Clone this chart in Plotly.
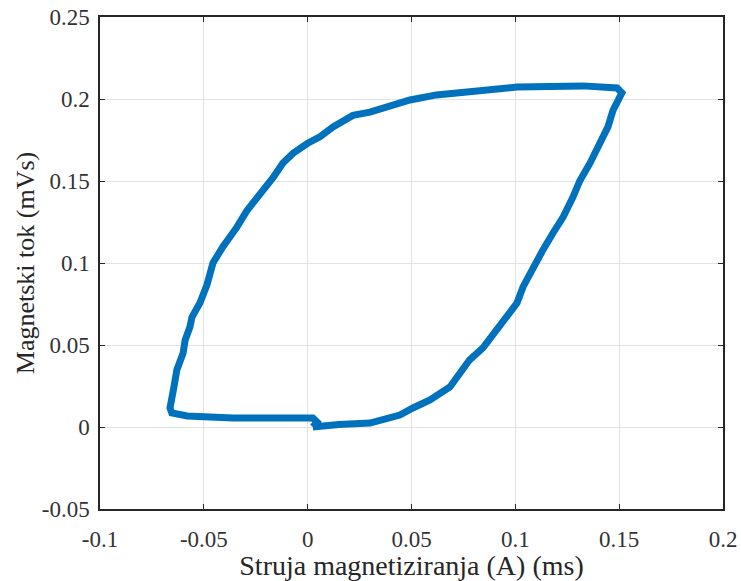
import plotly.graph_objects as go

# Hysteresis loop points, in drawing order
struja = [0.0025, 0.0074, 0.015, 0.030, 0.0444, 0.0507, 0.0589, 0.0685, 0.078, 0.0844,
          0.091, 0.0974, 0.1008, 0.1037, 0.1085, 0.1133, 0.118, 0.123, 0.1277, 0.131,
          0.136, 0.1407, 0.1446, 0.147, 0.1504, 0.1513, 0.149, 0.1325, 0.1008, 0.078,
          0.062, 0.0493, 0.030, 0.0218, 0.0122, 0.0059, 0.0, -0.007, -0.0119, -0.0167,
          -0.0215, -0.0263, -0.0292, -0.034, -0.0389, -0.0408, -0.0456, -0.0485, -0.0519,
          -0.0557, -0.0567, -0.059, -0.060, -0.063, -0.0644, -0.0654, -0.0663, -0.0654,
          -0.058, -0.036, -0.0119, 0.0025, 0.0045, 0.0025]
tok = [0.0, 0.001, 0.0015, 0.0024, 0.0073, 0.0116, 0.0165, 0.0244, 0.041, 0.0482,
       0.059, 0.0683, 0.0756, 0.0854, 0.0976, 0.108, 0.118, 0.128, 0.140, 0.150,
       0.161, 0.173, 0.183, 0.193, 0.201, 0.2037, 0.2067, 0.208, 0.2073, 0.205,
       0.2025, 0.1994, 0.192, 0.190, 0.183, 0.177, 0.173, 0.167, 0.161, 0.152,
       0.1445, 0.1366, 0.132, 0.122, 0.114, 0.110, 0.100, 0.0866, 0.0756,
       0.067, 0.061, 0.053, 0.045, 0.0348, 0.0244, 0.0165, 0.0116, 0.0085,
       0.0067, 0.0055, 0.0061, 0.0055, 0.003, 0.0]

x_ticks = [-0.1, -0.05, 0, 0.05, 0.1, 0.15, 0.2]
x_labels = ["-0.1", "-0.05", "0", "0.05", "0.1", "0.15", "0.2"]
y_ticks = [-0.05, 0, 0.05, 0.1, 0.15, 0.2, 0.25]
y_labels = ["-0.05", "0", "0.05", "0.1", "0.15", "0.2", "0.25"]

fig = go.Figure()
fig.add_trace(go.Scatter(x=struja, y=tok, mode="lines",
                         line=dict(color="#0072BD", width=7, shape="linear"),
                         showlegend=False, hoverinfo="skip"))

font_family = "Liberation Serif"
axis_common = dict(showgrid=True, gridcolor="#e3e3e3", gridwidth=1,
                   showline=True, linecolor="#262626", linewidth=1.5, mirror="ticks",
                   ticks="inside", ticklen=5, tickcolor="#262626", tickwidth=1,
                   zeroline=False, automargin=False, ticklabeloverflow="allow",
                   tickfont=dict(family=font_family, size=23, color="#333333"))

fig.update_xaxes(range=[-0.1, 0.2], tickvals=x_ticks, ticktext=x_labels,
                 ticklabelstandoff=9,
                 title=dict(text="Struja magnetiziranja (A) (ms)", standoff=0,
                            font=dict(family=font_family, size=28, color="#262626")),
                 **axis_common)
fig.update_yaxes(range=[-0.05, 0.25], tickvals=y_ticks, ticktext=y_labels,
                 ticklabelstandoff=4,
                 title=dict(text="Magnetski tok (mVs)", standoff=0,
                            font=dict(family=font_family, size=26, color="#262626")),
                 **axis_common)

fig.update_layout(width=741, height=581, plot_bgcolor="white", paper_bgcolor="white",
                  margin=dict(l=100, r=18, t=17, b=72), font=dict(family=font_family))

# remove the default page margin so the figure fills the window exactly
fig.write_html("out.html", config={"displayModeBar": False},
               post_script="document.body.style.margin='0';document.body.style.overflow='hidden';")
